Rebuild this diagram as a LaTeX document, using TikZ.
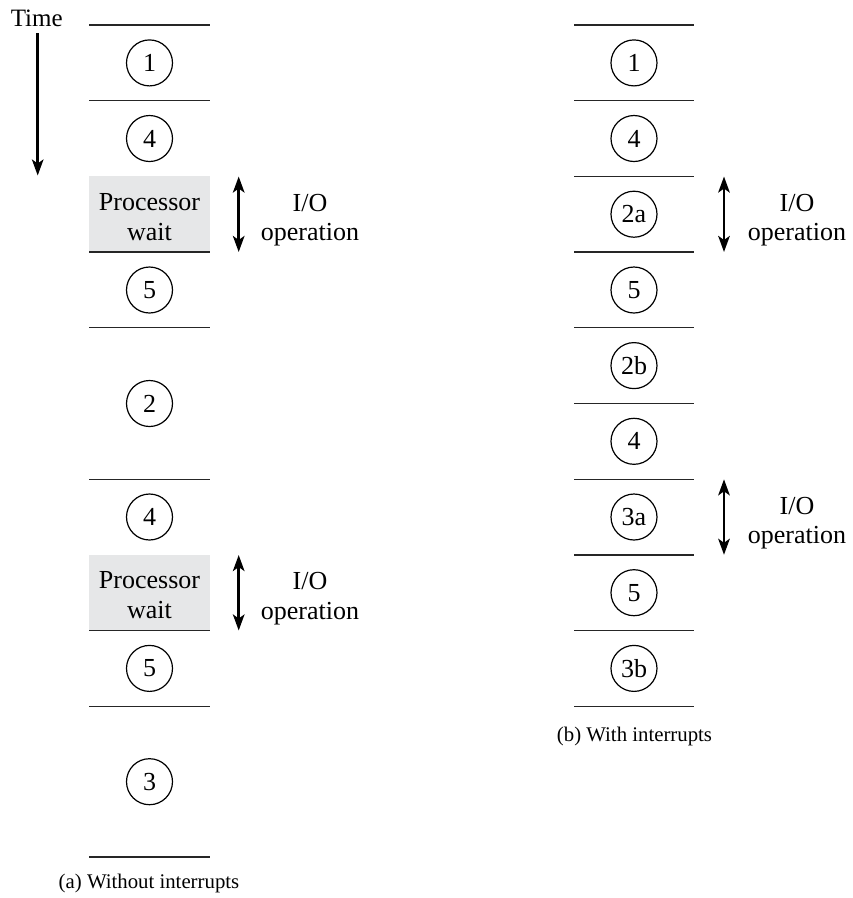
\documentclass[tikz,border=0pt]{standalone}
\usepackage{fontspec}
\setmainfont{Liberation Serif}
\usetikzlibrary{arrows.meta}
\definecolor{waitgray}{RGB}{230,231,232}
\begin{document}
\begin{tikzpicture}[x=1pt,y=-1pt,
  txt/.style={font=\fontsize{26}{29.5}\selectfont, inner sep=0pt, align=center},
  captiontext/.style={font=\fontsize{20.8}{24}\selectfont, inner sep=0pt, anchor=base},
  stepcirc/.style={circle, draw=black, line width=1.2pt, minimum size=46pt, inner sep=0pt,
    font=\fontsize{26}{29.5}\selectfont},
  sepline/.style={draw=black!85, line width=1.3pt},
  waitbox/.style={fill=waitgray, draw=none},
  ioarrow/.style={line width=2.7pt, {Stealth[length=16pt,width=11.5pt,inset=4pt]}-{Stealth[length=16pt,width=11.5pt,inset=4pt]}},
  timearrow/.style={line width=2.5pt, -{Stealth[length=16pt,width=11.5pt,inset=4pt]}}
]
\useasboundingbox (0,0) rectangle (853,898);

% ---------------- Time ----------------
\node[font=\fontsize{25}{29}\selectfont, inner sep=0pt, anchor=base] (time) at (36.7,26) {Time};
\coordinate (timeA) at (37.7,33);
\coordinate (timeB) at (37.7,175.5);
\draw[timearrow] (timeA) -- (timeB);

% ---------------- (a) Without interrupts ----------------
\fill[waitbox] (89,176.4) rectangle (210,252.1);
\fill[waitbox] (89,554.9) rectangle (210,630.6);
\foreach \y in {25,100.7,252.1,327.8,479.2,630.6,706.3,857}
  \draw[sepline] (89,\y) -- (210,\y);

\node[stepcirc] (a1) at (149.5,62.9) {1};
\node[stepcirc] (a4) at (149.5,138.5) {4};
\node[txt] (aw1) at (149.5,217) {Processor\\wait};
\node[stepcirc] (a5) at (149.5,290) {5};
\node[stepcirc] (a2) at (149.5,403.5) {2};
\node[stepcirc] (a4b) at (149.5,517) {4};
\node[txt] (aw2) at (149.5,595) {Processor\\wait};
\node[stepcirc] (a5b) at (149.5,668.4) {5};
\node[stepcirc] (a3) at (149.5,781.7) {3};

\coordinate (aioA1) at (238.7,176.5);
\coordinate (aioB1) at (238.7,252);
\draw[ioarrow] (aioA1) -- (aioB1);
\node[txt] (aio1) at (310,220) {I/O\\operation};

\coordinate (aioA2) at (238.7,555);
\coordinate (aioB2) at (238.7,630.5);
\draw[ioarrow] (aioA2) -- (aioB2);
\node[txt] (aio2) at (310,598.5) {I/O\\operation};

\node[captiontext] (capa) at (149,888) {(a) Without interrupts};

% ---------------- (b) With interrupts ----------------
\foreach \y in {25,100.7,176.4,252.1,327.8,403.5,479.2,554.9,630.6,706.3}
  \draw[sepline] (574,\y) -- (694,\y);

\node[stepcirc] (b1) at (634,62.9) {1};
\node[stepcirc] (b4) at (634,138.5) {4};
\node[stepcirc] (b2a) at (634,214.2) {2a};
\node[stepcirc] (b5) at (634,290) {5};
\node[stepcirc] (b2b) at (634,365.6) {2b};
\node[stepcirc] (b4b) at (634,441.3) {4};
\node[stepcirc] (b3a) at (634,517) {3a};
\node[stepcirc] (b5b) at (634,592.7) {5};
\node[stepcirc] (b3b) at (634,668.4) {3b};

\coordinate (bioA1) at (724,176.5);
\coordinate (bioB1) at (724,252);
\draw[ioarrow] (bioA1) -- (bioB1);
\node[txt] (bio1) at (797,220) {I/O\\operation};

\coordinate (bioA2) at (724,479.3);
\coordinate (bioB2) at (724,554.8);
\draw[ioarrow] (bioA2) -- (bioB2);
\node[txt] (bio2) at (797,523) {I/O\\operation};

\node[captiontext] (capb) at (634.5,741) {(b) With interrupts};
\end{tikzpicture}
\end{document}
